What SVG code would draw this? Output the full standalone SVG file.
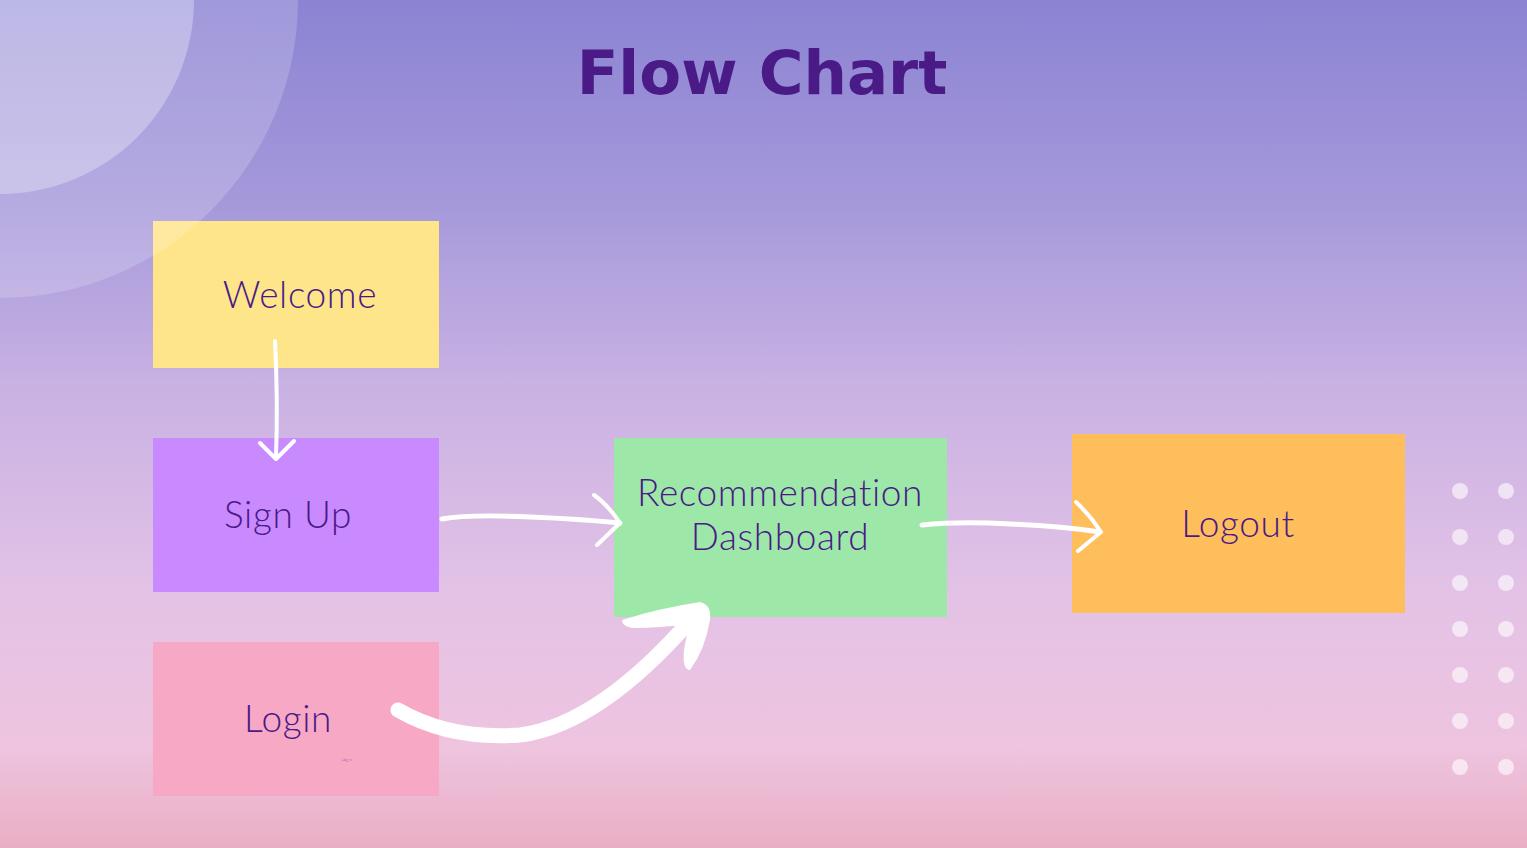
<svg xmlns="http://www.w3.org/2000/svg" width="1527" height="848" viewBox="0 0 1527 848">
<defs>
<linearGradient id="bg" x1="0" y1="0" x2="0" y2="1">
<stop offset="0" stop-color="#8b83d3"/>
<stop offset="0.25" stop-color="#a79adb"/>
<stop offset="0.45" stop-color="#c8b1e3"/>
<stop offset="0.7" stop-color="#e3c2e6"/>
<stop offset="0.88" stop-color="#eec4df"/>
<stop offset="1" stop-color="#eaaec4"/>
</linearGradient>
<style>
.box text{font-family:"Lato","Liberation Sans",sans-serif;font-weight:300;fill:#4a1a86;text-anchor:middle;font-size:37px;letter-spacing:0.6px}
.thin{fill:none;stroke:#ffffff;stroke-width:4;stroke-linecap:round;stroke-linejoin:round}
.dot{fill:#ffffff;fill-opacity:0.6}
</style>
</defs>
<rect width="1527" height="848" fill="url(#bg)"/>
<g id="welcome" class="box"><rect x="153" y="221" width="286" height="147" fill="#ffe58a"/><text x="300" y="308">Welcome</text></g>
<g id="signup" class="box"><rect x="153" y="438" width="286" height="154" fill="#c98aff"/><text x="288" y="528">Sign Up</text></g>
<g id="login" class="box"><rect x="153" y="642" width="286" height="154" fill="#f7a8c5"/><text x="288" y="732">Login</text><text x="347" y="761" style="font-size:3px">Login</text></g>
<g id="dashboard" class="box"><rect x="614" y="438" width="333" height="179" fill="#9de8a8"/><text x="780" y="506">Recommendation</text><text x="780" y="550">Dashboard</text></g>
<g id="logout" class="box"><rect x="1072" y="434" width="333" height="179" fill="#ffbe5c"/><text x="1238" y="537">Logout</text></g>
<g id="decor">
<circle cx="0" cy="0" r="298" fill="#ffffff" fill-opacity="0.18"/>
<circle cx="0" cy="0" r="194" fill="#ffffff" fill-opacity="0.3"/>
<circle class="dot" cx="1460" cy="491" r="8"/><circle class="dot" cx="1506" cy="491" r="8"/>
<circle class="dot" cx="1460" cy="537" r="8"/><circle class="dot" cx="1506" cy="537" r="8"/>
<circle class="dot" cx="1460" cy="583" r="8"/><circle class="dot" cx="1506" cy="583" r="8"/>
<circle class="dot" cx="1460" cy="629" r="8"/><circle class="dot" cx="1506" cy="629" r="8"/>
<circle class="dot" cx="1460" cy="675" r="8"/><circle class="dot" cx="1506" cy="675" r="8"/>
<circle class="dot" cx="1460" cy="721" r="8"/><circle class="dot" cx="1506" cy="721" r="8"/>
<circle class="dot" cx="1460" cy="767" r="8"/><circle class="dot" cx="1506" cy="767" r="8"/>
</g>
<g id="connectors">
<path class="thin" d="M275 341 Q278 400 276 458"/>
<path class="thin" d="M260 443 L276 459 L294 441"/>
<path class="thin" style="stroke-width:5" d="M442 519 Q470 514 530 517 Q580 519 620 523"/>
<path class="thin" d="M594 495 Q608 505 620 523 L597 545"/>
<path class="thin" style="stroke-width:5" d="M922 525 Q960 521 1010 524 Q1060 526 1100 532"/>
<path class="thin" d="M1076 502 Q1090 515 1101 532 L1078 551"/>
<path fill="none" stroke="#ffffff" stroke-width="15" stroke-linecap="round" d="M398 710 Q450 740 520 735 Q600 725 695 615"/>
<path fill="#ffffff" d="M622 620 Q660 608 700 602 Q712 605 710 620 Q705 650 690 670 Q682 670 684 650 Q687 632 690 624 Q660 628 632 628 Q622 626 622 620 Z"/>
</g>
<text x="762" y="94" style="font-family:'DejaVu Sans','Liberation Sans',sans-serif;font-weight:bold;font-size:61px;fill:#4a1a86;text-anchor:middle">Flow Chart</text>
</svg>
